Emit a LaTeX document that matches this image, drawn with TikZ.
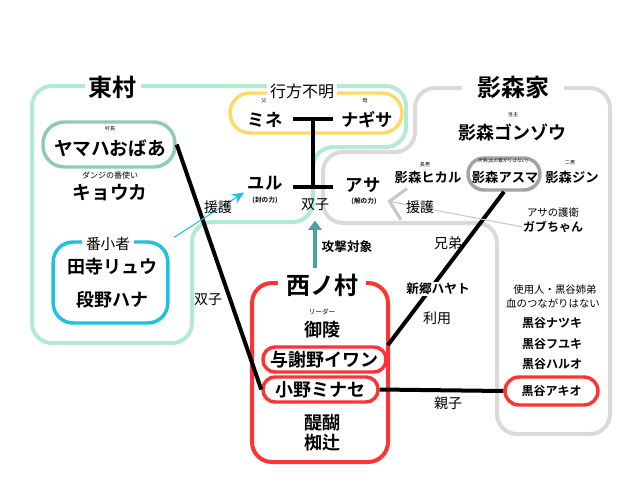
\documentclass[tikz,border=0pt]{standalone}
\usepackage{fontspec}
\setmainfont{Noto Sans CJK JP}[BoldFont={Noto Sans CJK JP Bold}]
\usetikzlibrary{arrows.meta}

\definecolor{mint}{HTML}{B3EBD1}
\definecolor{minttext}{HTML}{8DCCAF}
\definecolor{lgray}{HTML}{DADADA}
\definecolor{mgray}{HTML}{A3A3A3}
\definecolor{agray}{HTML}{C8C8C8}
\definecolor{redv}{HTML}{FF3333}
\definecolor{yellowv}{HTML}{FFD966}
\definecolor{cyanv}{HTML}{1FC0E0}
\definecolor{tealv}{HTML}{4AA3A3}

\newcommand{\fs}[1]{\fontsize{#1}{#1}\selectfont}

\begin{document}
\begin{tikzpicture}[x=0.75pt,y=-0.75pt,
    region/.style={line width=3pt,rounded corners=15pt},
    box/.style={line width=2.6pt,fill=white,rounded corners=#1,inner sep=0pt},
    title/.style={fill=white,font=\bfseries\fs{18},inner ysep=2pt},
    big/.style={font=\bfseries\fs{13.5},inner sep=0pt},
    mid/.style={font=\bfseries\fs{10},inner sep=0pt},
    small/.style={font=\bfseries\fs{9},inner sep=0pt},
    note/.style={font=\fs{7.8},inner sep=0pt},
    tiny/.style={font=\fs{3.8},inner sep=0pt},
    rel/.style={font=\fs{10.5},inner sep=0pt},
    conn/.style={line width=3pt},
    tbar/.style={line width=3.2pt}]

    \useasboundingbox (0,0) rectangle (640,480);

    % areas
    \draw[region,mint] (120,86) -- (406,86) -- (406,147) -- (313,147) -- (313,222)
        -- (192,222) -- (192,343) -- (32,343) -- (32,86) -- cycle;
    \draw[region,lgray] (500,88) -- (610,88) -- (610,434) -- (497,434) -- (497,223)
        -- (323,223) -- (323,152) -- (415,152) -- (415,88) -- cycle;

    \node[title] (higashi) at (113,87) {東村};
    \node[title,inner xsep=11pt] (kagemori) at (513,87) {影森家};

    % 東村
    \node[box=16pt,draw=minttext,minimum width=99pt,minimum height=33.75pt] (yamaha) at (109,144.5) {};
    \node[tiny] (soncho) at (110,129) {村長};
    \node[big,font=\bfseries\fs{14}] (yamahaname) at (110,148) {ヤマハおばあ};
    \node[font=\fs{6},inner sep=0pt] (danji) at (110,175) {ダンジの番使い};
    \node[big,font=\bfseries\fs{14}] (kyoka) at (110,193) {キョウカ};

    \node[box=15pt,draw=cyanv,minimum width=86pt,minimum height=60.75pt] (banko) at (110.5,282.5) {};
    \node[fill=white,font=\fs{11},inner xsep=3pt,inner ysep=0pt] (bankotitle) at (108,244) {番小者};
    \node[big] (ryu) at (112,267) {田寺リュウ};
    \node[big] (hana) at (112,300) {段野ハナ};

    % 行方不明
    \node[box=15pt,draw=yellowv,minimum width=129pt,minimum height=30pt] (yukue) at (316,113) {};
    \node[fill=white,font=\fs{12},inner xsep=2pt,inner ysep=0pt] (yukuetitle) at (302,91) {行方不明};
    \node[tiny] (chichi) at (264,101) {父};
    \node[tiny] (haha) at (365,101) {母};
    \node[big,font=\bfseries\fs{13}] (mine) at (265,120) {ミネ};
    \node[big,font=\bfseries\fs{13}] (nagisa) at (367,120) {ナギサ};

    \coordinate (parents) at (313,119);
    \coordinate (twins) at (313,187);
    \draw[tbar] ([xshift=-15pt]parents) -- ([xshift=15pt]parents);
    \draw[tbar] ([xshift=-15pt]twins) -- ([xshift=15pt]twins);
    \draw[tbar] (parents) -- (twins);

    \node[big,font=\bfseries\fs{13}] (yuru) at (265,183) {ユル};
    \node[font=\bfseries\fs{5},inner sep=0pt] (yuruforce) at (265,200) {(封の力)};
    \node[big,font=\bfseries\fs{13}] (asa) at (363,185) {アサ};
    \node[font=\bfseries\fs{5},inner sep=0pt] (asaforce) at (364,201) {(解の力)};
    \node[rel] (futago) at (315,205) {双子};

    % 影森家
    \node[tiny] (toshu) at (513,115) {当主};
    \node[big] (gonzo) at (512,132) {影森ゴンゾウ};
    \node[tiny] (chonan) at (425,165) {長男};
    \node[mid] (hikaru) at (428,177) {影森ヒカル};
    \node[box=12pt,draw=mgray,minimum width=54pt,minimum height=24pt] (asuma) at (504,174) {};
    \node[font=\fs{3.5},inner sep=0pt] (jinan) at (503,161) {次男(血の繋がりはない)};
    \node[mid] (asumaname) at (505,177) {影森アスマ};
    \node[tiny] (jinan2) at (570,163) {二男};
    \node[mid] (jin) at (572,177) {影森ジン};
    \node[note] (goei) at (553,213) {アサの護衛};
    \node[small] (gabu) at (553,227) {ガブちゃん};

    \node[note] (shiyonin) at (555,290) {使用人・黒谷姉弟};
    \node[note] (chi) at (553,303) {血のつながりはない};
    \node[small] (natsuki) at (552,323) {黒谷ナツキ};
    \node[small] (fuyuki) at (552,344) {黒谷フユキ};
    \node[small] (haruo) at (552,364) {黒谷ハルオ};
    \node[box=10.5pt,draw=redv,minimum width=69.75pt,minimum height=21pt,font=\bfseries\fs{9}] (akio) at (551.5,391) {黒谷アキオ};

    % 西ノ村
    \draw[region,redv] (252,283) rectangle (388,462);
    \node[title,inner xsep=6pt,inner ysep=0pt] (nishi) at (322,285) {西ノ村};
    \node[font=\fs{5},inner sep=0pt] (leader) at (322,312) {リーダー};
    \node[big] (goryo) at (322,330) {御陵};
    \node[box=9pt,draw=redv,minimum width=92.25pt,minimum height=18.75pt,font=\bfseries\fs{13.5}] (iwan) at (324.5,359.5) {与謝野イワン};
    \node[box=9pt,draw=redv,minimum width=86.25pt,minimum height=18.75pt,font=\bfseries\fs{13.5}] (minase) at (320.5,389.5) {小野ミナセ};
    \node[big] (daigo) at (322,423) {醍醐};
    \node[big] (nagitsuji) at (322,443) {椥辻};

    % relations
    \draw[conn] (yamaha.east) -- (minase.west);
    \node[rel] (futago2) at (208,300) {双子};

    \draw[conn] (asuma.south) -- (iwan.north east);
    \node[rel] (kyodai) at (448,243) {兄弟};
    \node[small,font=\bfseries\fs{9.5},fill=white,inner sep=1pt] (hayato) at (438,289) {新郷ハヤト};
    \node[rel] (riyo) at (437,318) {利用};

    \draw[conn] (minase.east) -- (akio.west);
    \node[rel] (oyako) at (448,403) {親子};

    \draw[cyanv,line width=0.8pt,-{Stealth[length=9pt,width=8pt]},shorten <=4pt,shorten >=3pt] (banko.north east) -- (yuru.south west);
    \node[rel] (engo1) at (218,207) {援護};

    \draw[agray,line width=0.8pt,-{Straight Barb[length=11pt,width=24pt,line width=2.4pt]}] (gabu.west) -- ([xshift=8pt]asaforce.east);
    \node[rel] (engo2) at (420,207) {援護};

    \draw[tealv,line width=3pt,-{Triangle[length=7pt,width=10pt]},shorten <=4pt,shorten >=7pt] (nishi.north -| futago) -- (futago.south);
    \node[small,font=\bfseries\fs{9.5}] (kogeki) at (347,247) {攻撃対象};

\end{tikzpicture}
\end{document}
